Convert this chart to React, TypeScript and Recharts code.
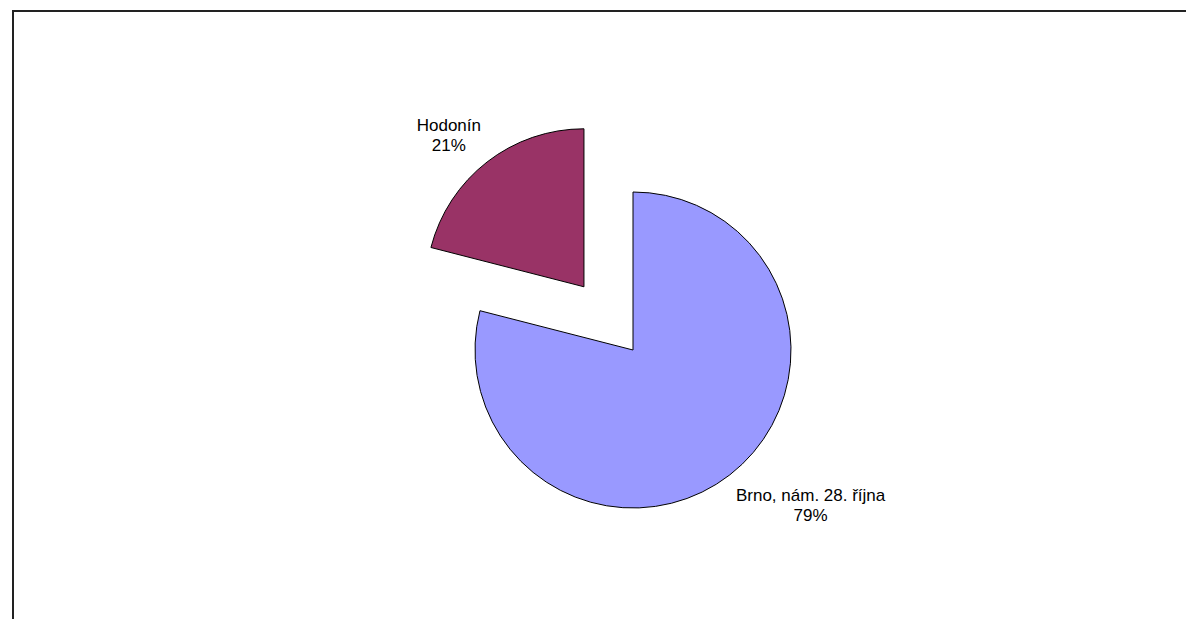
import { PieChart, Pie, Cell } from "recharts";

const categories = ["Brno, nám. 28. října", "Hodonín"];
const shares = [79, 21];
const colors = ["#9999FF", "#993366"];

const data = categories.map((name, i) => ({ name, value: shares[i] }));

const W = 1186;
const H = 611;
const CX = 625;
const CY = 342;
const R = 158;
const EXPLODE = 80;
const FONT = "17px 'Liberation Sans', Arial, sans-serif";

const RAD = Math.PI / 180;

// midAngle of the exploded slice, worked out from the data
const total = shares.reduce((a, b) => a + b, 0);
const hodStart = 90 - (shares[0] / total) * 360;
const hodMid = hodStart - (shares[1] / total) * 180;
const dx = EXPLODE * Math.cos(-hodMid * RAD);
const dy = EXPLODE * Math.sin(-hodMid * RAD);

let ctx: CanvasRenderingContext2D | null = null;
function textWidth(t: string) {
  if (!ctx) ctx = document.createElement("canvas").getContext("2d");
  if (!ctx) return t.length * 9;
  ctx.font = FONT;
  return ctx.measureText(t).width;
}

const labelFor = (only: number) => (props: any) => {
  const { cx, cy, midAngle, outerRadius, percent, name, index } = props;
  if (index !== only) return null;
  const c = Math.cos(-midAngle * RAD);
  const s = Math.sin(-midAngle * RAD);
  const px = cx + (outerRadius + 10) * c;
  const py = cy + (outerRadius + 10) * s;
  const pct = `${Math.round(percent * 100)}%`;
  const w = Math.max(textWidth(name), textWidth(pct));
  const mx = c >= 0 ? px + w / 2 : px - w / 2;
  const top = s >= 0 ? py : py - 41;
  return (
    <text
      x={mx}
      y={top + 18}
      textAnchor="middle"
      fill="#000"
      stroke="none"
      style={{ font: FONT, fill: "#000" }}
    >
      <tspan x={mx}>{name}</tspan>
      <tspan x={mx} dy={20}>
        {pct}
      </tspan>
    </text>
  );
};

export default function App() {
  return (
    <div style={{ position: "relative", width: W, height: H, overflow: "hidden" }}>
      <div
        style={{
          position: "absolute",
          left: 4,
          top: 2,
          width: 1300,
          height: 800,
          borderTop: "2px solid #222",
          borderLeft: "2px solid #222",
        }}
      />
      <div style={{ position: "absolute", left: 0, top: 0 }}>
        <PieChart width={W} height={H} margin={{ top: 0, right: 0, bottom: 0, left: 0 }}>
          <Pie
            data={data}
            dataKey="value"
            nameKey="name"
            cx={CX}
            cy={CY}
            outerRadius={R}
            startAngle={90}
            endAngle={-270}
            labelLine={false}
            label={labelFor(0)}
            isAnimationActive={false}
          >
            {data.map((d, i) => (
              <Cell
                key={d.name}
                fill={i === 0 ? colors[0] : "none"}
                stroke={i === 0 ? "#000" : "none"}
                strokeWidth={1}
              />
            ))}
          </Pie>
          <Pie
            data={data}
            dataKey="value"
            nameKey="name"
            cx={CX + dx}
            cy={CY + dy}
            outerRadius={R}
            startAngle={90}
            endAngle={-270}
            labelLine={false}
            label={labelFor(1)}
            isAnimationActive={false}
          >
            {data.map((d, i) => (
              <Cell
                key={d.name}
                fill={i === 1 ? colors[1] : "none"}
                stroke={i === 1 ? "#000" : "none"}
                strokeWidth={1}
              />
            ))}
          </Pie>
        </PieChart>
      </div>
    </div>
  );
}
